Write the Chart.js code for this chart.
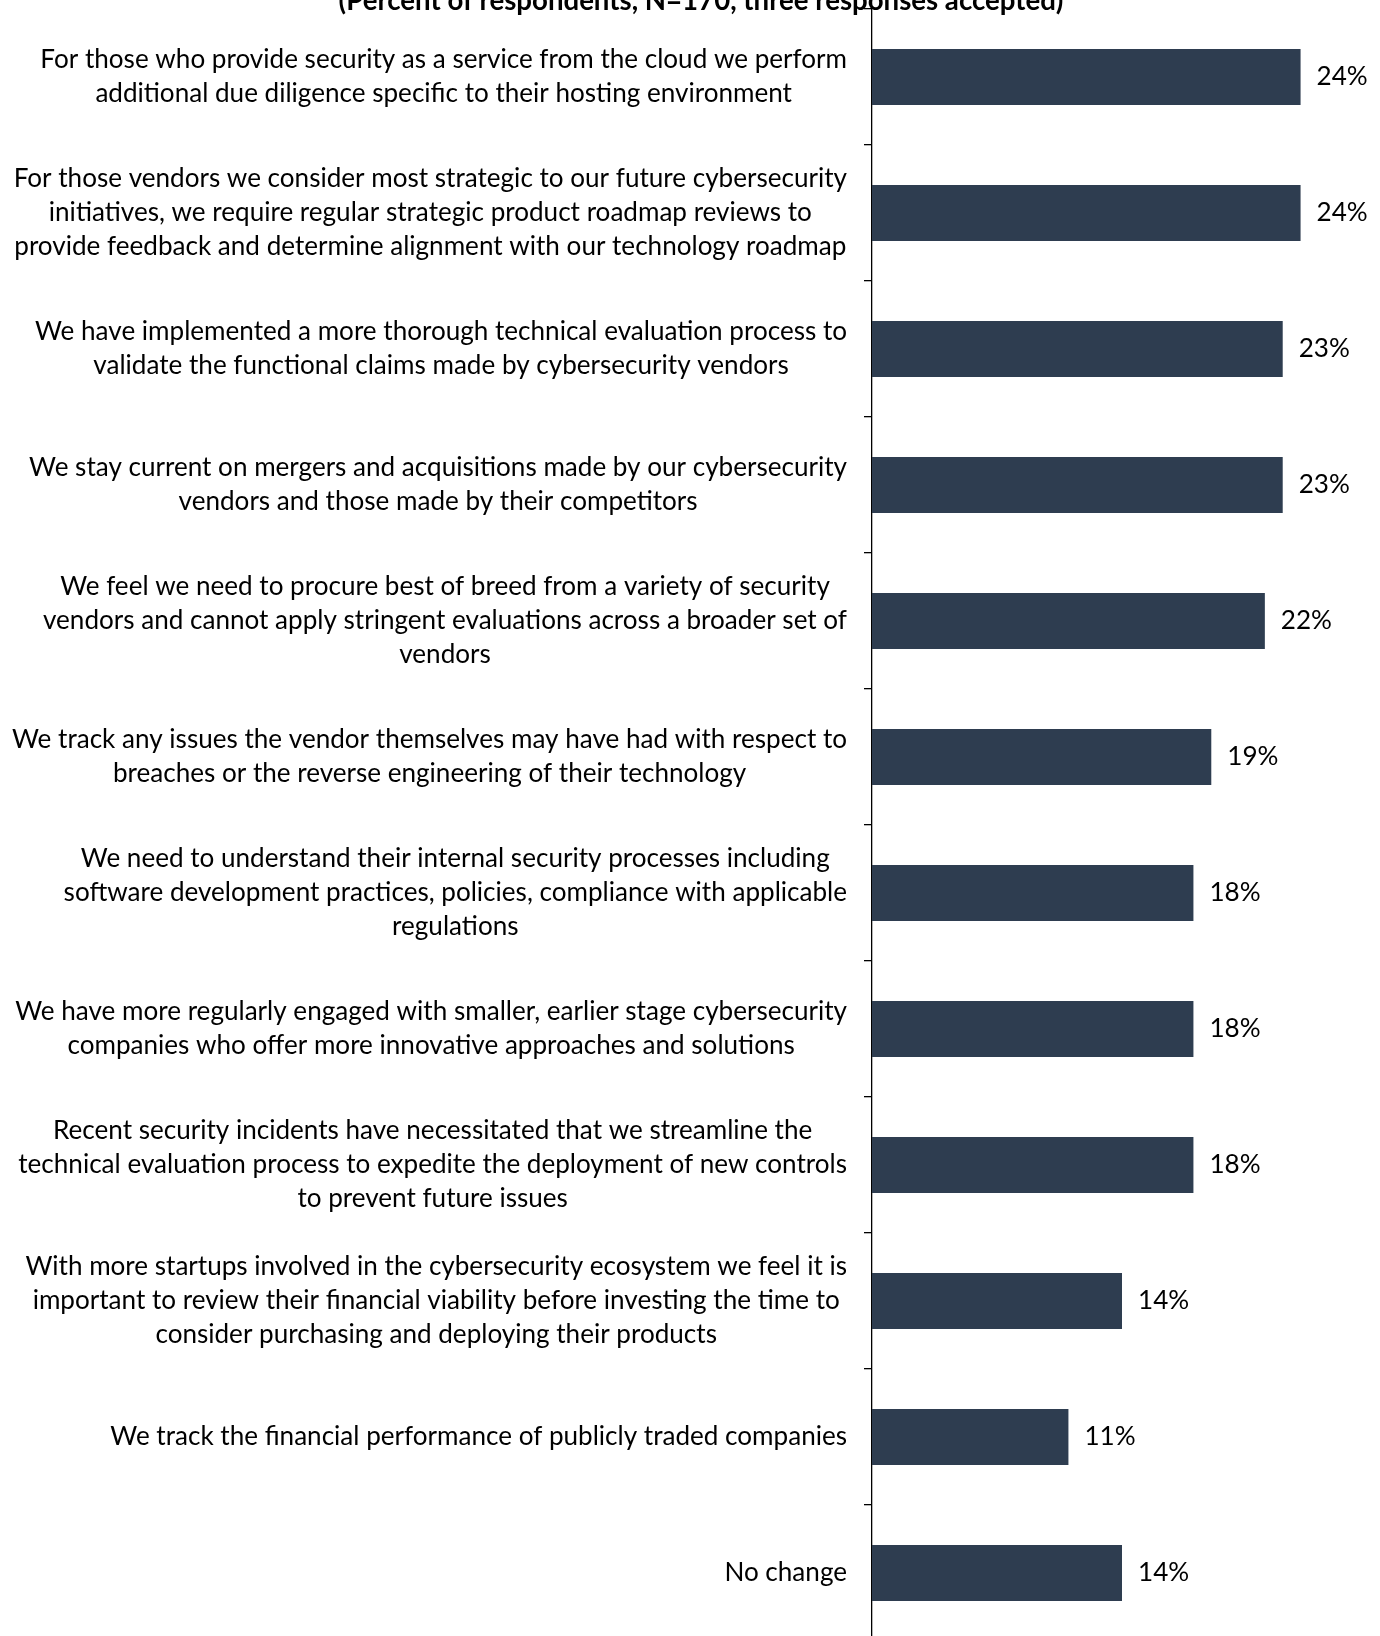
<!DOCTYPE html>
<html>
<head>
<meta charset="utf-8">
<script src="https://cdn.jsdelivr.net/npm/chart.js@4/dist/chart.umd.min.js"></script>
<style>
  html, body { margin: 0; padding: 0; background: #fff; overflow: hidden; }
  canvas { display: block; }
</style>
</head>
<body>
<canvas id="chart" width="1380" height="1650"></canvas>
<script>
const chartTitle = '(Percent of respondents, N=170, three responses accepted)';

const categories = [
  ['For those who provide security as a service from the cloud we perform',
   'additional due diligence specific to their hosting environment'],
  ['For those vendors we consider most strategic to our future cybersecurity',
   'initiatives, we require regular strategic product roadmap reviews to',
   'provide feedback and determine alignment with our technology roadmap'],
  ['We have implemented a more thorough technical evaluation process to',
   'validate the functional claims made by cybersecurity vendors'],
  ['We stay current on mergers and acquisitions made by our cybersecurity',
   'vendors and those made by their competitors'],
  ['We feel we need to procure best of breed from a variety of security',
   'vendors and cannot apply stringent evaluations across a broader set of',
   'vendors'],
  ['We track any issues the vendor themselves may have had with respect to',
   'breaches or the reverse engineering of their technology'],
  ['We need to understand their internal security processes including',
   'software development practices, policies, compliance with applicable',
   'regulations'],
  ['We have more regularly engaged with smaller, earlier stage cybersecurity',
   'companies who offer more innovative approaches and solutions'],
  ['Recent security incidents have necessitated that we streamline the',
   'technical evaluation process to expedite the deployment of new controls',
   'to prevent future issues'],
  ['With more startups involved in the cybersecurity ecosystem we feel it is',
   'important to review their financial viability before investing the time to',
   'consider purchasing and deploying their products'],
  ['We track the financial performance of publicly traded companies'],
  ['No change']
];

const shares = [24, 24, 23, 23, 22, 19, 18, 18, 18, 14, 11, 14];

const FONT = 'Lato, "Open Sans", sans-serif';
const BAR_COLOR = '#2E3D50';
const LINE_HEIGHT = 34;

// pick a font size that gives the same run length as the original typeface
const fitSize = (ctx, text, width, weight) => {
  ctx.font = `${weight} 100px ${FONT}`;
  return 100 * width / ctx.measureText(text).width;
};

const labelPlugin = {
  id: 'labelPlugin',
  afterDraw(chart) {
    const ctx = chart.ctx;
    const yScale = chart.scales.y;
    const bars = chart.getDatasetMeta(0).data;
    const labelSize = fitSize(ctx, categories[10][0], 737, 'normal');
    const titleSize = fitSize(ctx, chartTitle, 725, 'bold');

    ctx.save();
    ctx.fillStyle = '#000';
    ctx.textBaseline = 'middle';
    ctx.font = `normal ${labelSize}px ${FONT}`;

    // category text: block right-aligned against the axis, lines centred inside it
    const rightEdge = chart.chartArea.left - 25;
    categories.forEach((lines, i) => {
      const center = yScale.getPixelForTick(i);
      const blockWidth = Math.max(...lines.map(l => ctx.measureText(l).width));
      const midX = rightEdge - blockWidth / 2;
      ctx.textAlign = 'center';
      lines.forEach((line, j) => {
        ctx.fillText(line, midX, center + (j - (lines.length - 1) / 2) * LINE_HEIGHT);
      });
    });

    // value labels at the end of each bar
    ctx.textAlign = 'left';
    bars.forEach((bar, i) => {
      ctx.fillText(shares[i] + '%', bar.x + 16, bar.y);
    });

    // heading
    ctx.font = `bold ${titleSize}px ${FONT}`;
    ctx.textAlign = 'center';
    ctx.textBaseline = 'alphabetic';
    ctx.fillText(chartTitle, 701, 10);
    ctx.restore();
  }
};

const ctx = document.getElementById('chart').getContext('2d');
new Chart(ctx, {
  type: 'bar',
  data: {
    labels: categories,
    datasets: [{
      data: shares,
      backgroundColor: BAR_COLOR,
      categoryPercentage: 1,
      barPercentage: 0.41
    }]
  },
  options: {
    indexAxis: 'y',
    responsive: false,
    animation: false,
    layout: {
      padding: { left: 864, right: 8, top: 9, bottom: 9 }
    },
    plugins: {
      legend: { display: false },
      tooltip: { enabled: false }
    },
    scales: {
      x: {
        display: false,
        min: 0,
        max: 28
      },
      y: {
        grid: {
          display: true,
          drawOnChartArea: false,
          drawTicks: true,
          tickLength: 8,
          offset: true,
          color: '#000',
          lineWidth: 1.3
        },
        border: { display: true, color: '#000', width: 1.3 },
        ticks: { display: false }
      }
    }
  },
  plugins: [labelPlugin]
});
</script>
</body>
</html>
